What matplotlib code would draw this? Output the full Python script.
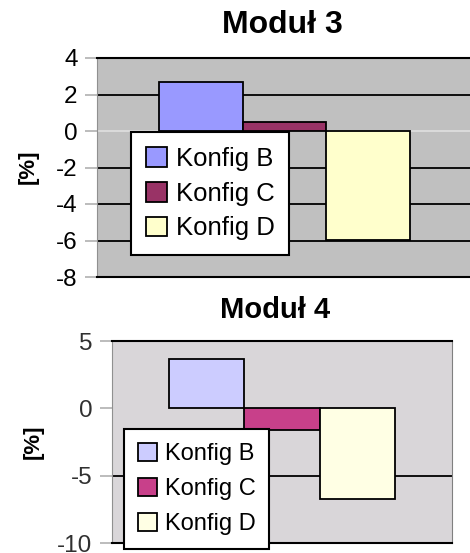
import matplotlib
matplotlib.use("Agg")
import matplotlib.pyplot as plt

plt.rcParams["font.family"] = ["Liberation Sans", "DejaVu Sans"]

SERIES = ["Konfig B", "Konfig C", "Konfig D"]

# Moduł 3
TITLE_3 = "Moduł 3"
VALUES_3 = [2.7, 0.5, -5.95]
COLORS_3 = ["#9999FF", "#993366", "#FFFFCC"]
YTICKS_3 = [4, 2, 0, -2, -4, -6, -8]
GRID_3 = [2, -2, -4, -6]

# Moduł 4
TITLE_4 = "Moduł 4"
VALUES_4 = [3.7, -1.6, -6.7]
COLORS_4 = ["#CCCCFF", "#C8408A", "#FFFFE4"]
YTICKS_4 = [5, 0, -5, -10]
GRID_4 = [-5]

W, H = 470, 553
BAR_W = 0.2225


def fx(px):
    return px / W


def fy(py):
    return 1 - py / H


def draw_panel(ax, values, colors, yticks, grid, bg, legend_pos, fontsize, legsize,
               spacing, tickcolor):
    ax.set_facecolor(bg)
    for g in grid:
        ax.axhline(g, color="black", lw=1.3, zorder=1)
    for i, (v, c, name) in enumerate(zip(values, colors, SERIES)):
        ax.bar((i - 1) * BAR_W, v, width=BAR_W, color=c, edgecolor="black",
               linewidth=1.3, label=name, zorder=2)
    ax.set_xlim(-0.5, 0.5)
    ax.set_ylim(min(yticks), max(yticks))
    ax.set_xticks([])
    ax.set_yticks(yticks)
    ax.set_yticklabels([str(t) for t in yticks])
    ax.tick_params(axis="y", length=9, width=1.2, color="#B0B0B0", pad=5,
                   labelsize=fontsize, labelcolor=tickcolor)
    for side in ["top", "bottom"]:
        ax.spines[side].set_color("black")
        ax.spines[side].set_linewidth(1.5)
    ax.spines["left"].set_color("#909090")
    ax.spines["right"].set_color("#808080")
    leg = ax.legend(loc="upper left", bbox_to_anchor=legend_pos, fontsize=legsize,
                    frameon=True, fancybox=False, framealpha=1, edgecolor="black",
                    handlelength=0.8, handleheight=0.8, handletextpad=0.35,
                    labelspacing=spacing, borderpad=0.58, borderaxespad=0)
    leg.get_frame().set_linewidth(1.5)
    leg.set_zorder(5)
    return leg


fig = plt.figure(figsize=(W / 100, H / 100), dpi=100)

ax3 = fig.add_axes([fx(97), fy(277), fx(373) + 0.005, fy(58) - fy(277)])
draw_panel(ax3, VALUES_3, COLORS_3, YTICKS_3, GRID_3, "#C0C0C0",
           ((131 - 97) / 373, (277 - 132) / 219), 17.5, 18.5, 0.42, "black")
ax3.axhline(0, color="#E0E0E0", lw=1.2, zorder=1.5)
fig.text(fx(282), fy(25), TITLE_3, ha="center", va="center", fontsize=23, fontweight="bold")
fig.text(fx(28), fy(167), "[%]", ha="center", va="center", rotation=90, fontsize=16, fontweight="bold")

ax4 = fig.add_axes([fx(112), fy(543), fx(340), fy(341) - fy(543)])
draw_panel(ax4, VALUES_4, COLORS_4, YTICKS_4, GRID_4, "#D9D6D9",
           ((124 - 112) / 340, (543 - 429) / 202), 17.5, 17, 0.55, "#303030")
fig.text(fx(275), fy(310), TITLE_4, ha="center", va="center", fontsize=21, fontweight="bold")
fig.text(fx(33), fy(442), "[%]", ha="center", va="center", rotation=90, fontsize=16, fontweight="bold")

fig.savefig("out.png", dpi=100)
